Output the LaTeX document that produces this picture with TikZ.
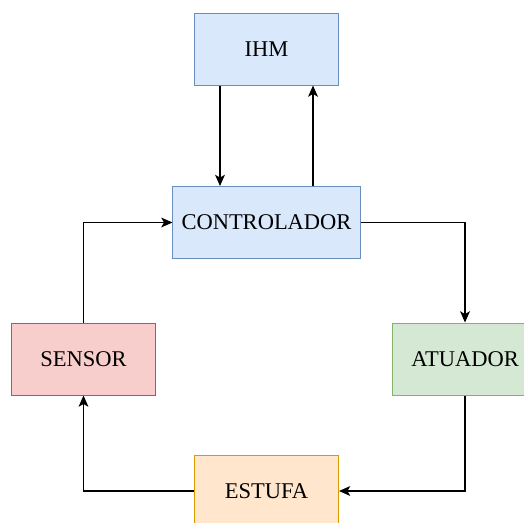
\documentclass[tikz,border=0pt]{standalone}
\usepackage{fontspec}
\setmainfont{Liberation Serif}
\usetikzlibrary{arrows.meta}
\definecolor{bluefill}{HTML}{DAE8FC}\definecolor{blueline}{HTML}{6C8EBF}
\definecolor{redfill}{HTML}{F8CECC}\definecolor{redline}{HTML}{B85450}
\definecolor{greenfill}{HTML}{D5E8D4}\definecolor{greenline}{HTML}{82B366}
\definecolor{orangefill}{HTML}{FFE6CC}\definecolor{orangeline}{HTML}{D79B00}
\tikzset{
  block/.style={draw, line width=0.7pt, minimum width=3.6cm, minimum height=1.8cm, inner sep=0pt, font=\fontsize{16}{19}\selectfont},
  arr/.style={-{Stealth[length=8pt,width=7pt,inset=2pt]}, line width=0.8pt}
}
\begin{document}
\begin{tikzpicture}[x=0.025cm,y=-0.025cm]
                        \useasboundingbox (0,0) rectangle (524,522);
                        \clip (0,0) rectangle (524,522);
                        \node[block, fill=bluefill, draw=blueline] (ihm) at (266.5,49) {IHM};
                        \node[block, fill=bluefill, draw=blueline, minimum width=4.675cm] (ctrl) at (266.5,222.5) {CONTROLADOR};
                        \node[block, fill=redfill, draw=redline] (sensor) at (83.5,359) {SENSOR};
                        \node[block, fill=greenfill, draw=greenline] (atuador) at (465,359) {ATUADOR};
                        \node[block, fill=orangefill, draw=orangeline] (estufa) at (266.5,491) {ESTUFA};
                        \draw[arr] ([xshift=-1.1625cm]ihm.south) -- ([xshift=-1.1625cm]ctrl.north);
                        \draw[arr] ([xshift=1.1625cm]ctrl.north) -- ([xshift=1.1625cm]ihm.south);
                        \draw[arr] (ctrl.east) -| (atuador.north);
                        \draw[arr] (atuador.south) |- (estufa.east);
                        \draw[arr] (estufa.west) -| (sensor.south);
                        \draw[arr] (sensor.north) |- (ctrl.west);
                    \end{tikzpicture}
\end{document}
